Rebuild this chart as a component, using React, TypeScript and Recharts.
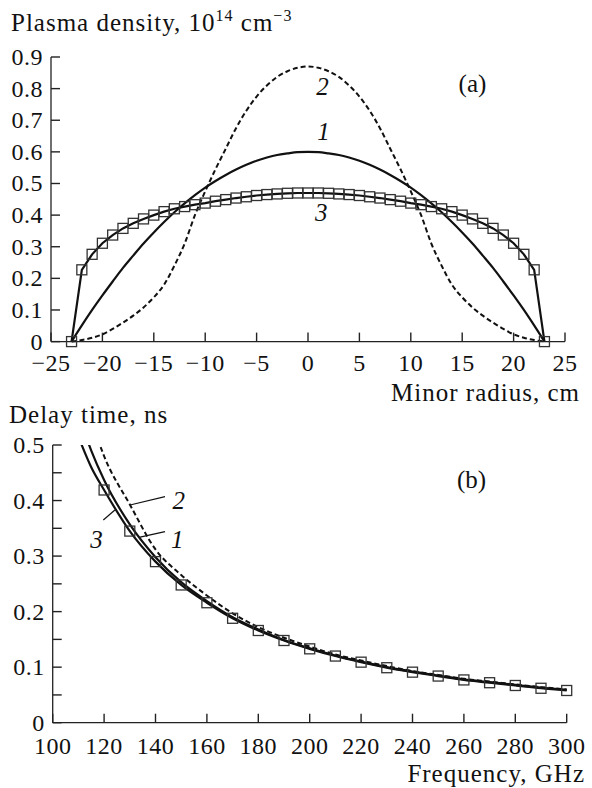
import { LineChart, Line, XAxis, YAxis, ReferenceDot, ReferenceLine } from "recharts";

// (a) plasma density profiles, 10^14 cm^-3
const radius = [
  -23, -22, -21, -20, -19, -18, -17, -16, -15, -14, -13, -12, -11, -10, -9, -8, -7, -6, -5, -4, -3, -2, -1, 0,
  1, 2, 3, 4, 5, 6, 7, 8, 9, 10, 11, 12, 13, 14, 15, 16, 17, 18, 19, 20, 21, 22, 23,
];
const density1 = [
  0, 0.051, 0.1, 0.146, 0.19, 0.233, 0.272, 0.31, 0.345, 0.378, 0.409, 0.437, 0.463, 0.487, 0.508, 0.527, 0.544,
  0.559, 0.572, 0.582, 0.59, 0.595, 0.599, 0.6, 0.599, 0.595, 0.59, 0.582, 0.572, 0.559, 0.544, 0.527, 0.508,
  0.487, 0.463, 0.437, 0.409, 0.378, 0.345, 0.31, 0.272, 0.233, 0.19, 0.146, 0.1, 0.051, 0,
];
const density2 = [
  0, 0.005, 0.012, 0.023, 0.04, 0.06, 0.082, 0.108, 0.14, 0.18, 0.24, 0.31, 0.4, 0.475, 0.545, 0.61, 0.675, 0.73,
  0.775, 0.81, 0.837, 0.855, 0.866, 0.87, 0.866, 0.855, 0.837, 0.81, 0.775, 0.73, 0.675, 0.61, 0.545, 0.475, 0.4,
  0.31, 0.24, 0.18, 0.14, 0.108, 0.082, 0.06, 0.04, 0.023, 0.012, 0.005, 0,
];
const density3 = [
  0, 0.227, 0.276, 0.311, 0.337, 0.358, 0.374, 0.388, 0.4, 0.411, 0.42, 0.427, 0.433, 0.438, 0.444, 0.449, 0.454,
  0.458, 0.462, 0.465, 0.467, 0.469, 0.47, 0.47, 0.47, 0.469, 0.467, 0.465, 0.462, 0.458, 0.454, 0.449, 0.444,
  0.438, 0.433, 0.427, 0.42, 0.411, 0.4, 0.388, 0.374, 0.358, 0.337, 0.311, 0.276, 0.227, 0,
];
const radiusTicks = [-25, -20, -15, -10, -5, 0, 5, 10, 15, 20, 25];
const densityTicks = [0, 0.1, 0.2, 0.3, 0.4, 0.5, 0.6, 0.7, 0.8, 0.9];

// (b) delay time, ns
const freq = [110, 115, 120, 130, 140, 150, 160, 170, 180, 190, 200, 210, 220, 230, 240, 250, 260, 270, 280, 290, 300];
const delay1 = [
  0.555, 0.49, 0.437, 0.357, 0.298, 0.253, 0.219, 0.19, 0.168, 0.149, 0.134, 0.121, 0.11, 0.1, 0.092, 0.085, 0.078,
  0.073, 0.068, 0.063, 0.059,
];
const delay2 = [
  0.62, 0.545, 0.48, 0.393, 0.312, 0.266, 0.229, 0.197, 0.172, 0.153, 0.137, 0.123, 0.112, 0.102, 0.093, 0.086, 0.079,
  0.074, 0.069, 0.064, 0.06,
];
const delay3 = [
  0.515, 0.46, 0.419, 0.345, 0.29, 0.248, 0.216, 0.188, 0.166, 0.148, 0.133, 0.12, 0.109, 0.099, 0.091, 0.084, 0.077,
  0.072, 0.067, 0.062, 0.058,
];
const freqTicks = [100, 120, 140, 160, 180, 200, 220, 240, 260, 280, 300];
const delayTicks = [0, 0.05, 0.1, 0.15, 0.2, 0.25, 0.3, 0.35, 0.4, 0.45, 0.5];
const firstMarkerFreq = 120;

const profileRows = radius.map((r, i) => ({ r, n1: density1[i], n2: density2[i], n3: density3[i] }));
const delayRows = freq.map((f, i) => ({ f, t1: delay1[i], t2: delay2[i], t3: delay3[i] }));

const FONT = "'Liberation Serif', 'Times New Roman', serif";
const INK = "#111";
const AXIS = "#222";
const TICK_LEN = 9;

const minus = (v: number) => (v < 0 ? `\u2212${Math.abs(v)}` : String(v));
const density = (v: number) => (v === 0 ? "0" : v.toFixed(1));
const delayLabel = (v: number) => {
  const k = Math.round(v * 20);
  if (k % 2 === 1) return "";
  return k === 0 ? "0" : v.toFixed(1);
};

// ticks point into the plot, labels sit outside
function BottomTick(fmt: (v: number) => string, baseline: number) {
  return (p: any) => (
    <g key={`xt-${p.index}`}>
      <line x1={p.x} x2={p.x} y1={p.y} y2={p.y - TICK_LEN} stroke={AXIS} strokeWidth={1.4} />
      <text x={p.x} y={p.y + baseline} textAnchor="middle" fontFamily={FONT} fontSize={24} letterSpacing={0.5} fill="#111">
        {fmt(p.payload.value)}
      </text>
    </g>
  );
}

function LeftTick(fmt: (v: number) => string) {
  return (p: any) => (
    <g key={`yt-${p.index}`}>
      <line x1={p.x} x2={p.x + TICK_LEN} y1={p.y} y2={p.y} stroke={AXIS} strokeWidth={1.4} />
      <text x={p.x - 8} y={p.y + 8} textAnchor="end" fontFamily={FONT} fontSize={24} letterSpacing={0.5} fill="#111">
        {fmt(p.payload.value)}
      </text>
    </g>
  );
}

function Square(props: any) {
  const { cx, cy, index } = props;
  return <rect key={`sq-${index}`} x={cx - 5} y={cy - 5} width={10} height={10} fill="none" stroke="#333" strokeWidth={1.3} />;
}

function SparseSquare(props: any) {
  const { payload, index } = props;
  if (payload.f < firstMarkerFreq) return <g key={`sq-${index}`} />;
  return <Square {...props} />;
}

function tag(text: string, italic = true) {
  return (p: any) => (
    <text
      x={p.cx}
      y={p.cy}
      textAnchor="middle"
      dominantBaseline="central"
      fontFamily={FONT}
      fontSize={25}
      fontStyle={italic ? "italic" : "normal"}
      fill="#111"
    >
      {text}
    </text>
  );
}

const abs = (top: number, extra: React.CSSProperties = {}): React.CSSProperties => ({
  position: "absolute",
  top,
  fontFamily: FONT,
  fontSize: 25,
  letterSpacing: 1,
  lineHeight: "25px",
  color: "#111",
  whiteSpace: "nowrap",
  ...extra,
});

const sup: React.CSSProperties = { fontSize: 16, position: "relative", top: -10 };

export default function App() {
  return (
    <div style={{ position: "absolute", left: 0, top: 0, width: 592, height: 788, background: "#fff" }}>
      <div style={abs(10, { left: 11 })}>
        Plasma density, 10<span style={sup}>14</span> cm<span style={sup}>{"\u22123"}</span>
      </div>
      <div style={abs(380, { right: 12 })}>Minor radius, cm</div>
      <div style={abs(402, { left: 9 })}>Delay time, ns</div>
      <div style={abs(761, { right: 7 })}>Frequency, GHz</div>

      <div style={{ position: "absolute", left: 0, top: 0 }}>
        <LineChart width={592} height={400} data={profileRows} margin={{ top: 57, right: 27, bottom: 0, left: 0 }}>
          <XAxis
            dataKey="r"
            type="number"
            domain={[-25, 25]}
            ticks={radiusTicks}
            height={58.4}
            tickSize={0}
            tickMargin={0}
            tickLine={false}
            tick={BottomTick(minus, 29.5)}
            stroke={AXIS}
            strokeWidth={1.3}
            interval={0}
          />
          <YAxis
            type="number"
            domain={[0, 0.9]}
            ticks={densityTicks}
            width={51}
            tickSize={0}
            tickMargin={0}
            tickLine={false}
            tick={LeftTick(density)}
            stroke={AXIS}
            strokeWidth={1.3}
            interval={0}
          />
          <Line dataKey="n2" type="monotone" stroke={INK} strokeWidth={2} strokeDasharray="5 3" dot={false} isAnimationActive={false} />
          <Line dataKey="n1" type="monotone" stroke={INK} strokeWidth={2.2} dot={false} isAnimationActive={false} />
          <Line dataKey="n3" type="linear" stroke={INK} strokeWidth={2.2} dot={Square} isAnimationActive={false} />
          <ReferenceDot x={1.4} y={0.807} r={0} shape={tag("2")} />
          <ReferenceDot x={1.5} y={0.663} r={0} shape={tag("1")} />
          <ReferenceDot x={1.3} y={0.409} r={0} shape={tag("3")} />
          <ReferenceDot x={16} y={0.815} r={0} shape={tag("(a)", false)} />
        </LineChart>
      </div>

      <div style={{ position: "absolute", left: 0, top: 400 }}>
        <LineChart width={592} height={388} data={delayRows} margin={{ top: 45, right: 25.3, bottom: 0, left: 0 }}>
          <XAxis
            dataKey="f"
            type="number"
            domain={[100, 300]}
            ticks={freqTicks}
            height={65.3}
            tickSize={0}
            tickMargin={0}
            tickLine={false}
            tick={BottomTick(String, 31.5)}
            stroke={AXIS}
            strokeWidth={1.3}
            interval={0}
          />
          <YAxis
            type="number"
            domain={[0, 0.5]}
            ticks={delayTicks}
            allowDataOverflow
            width={52.7}
            tickSize={0}
            tickMargin={0}
            tickLine={false}
            tick={LeftTick(delayLabel)}
            stroke={AXIS}
            strokeWidth={1.3}
            interval={0}
          />
          <Line dataKey="t2" type="monotone" stroke={INK} strokeWidth={2} strokeDasharray="5 3" dot={false} isAnimationActive={false} />
          <Line dataKey="t1" type="monotone" stroke={INK} strokeWidth={2.2} dot={false} isAnimationActive={false} />
          <Line dataKey="t3" type="monotone" stroke={INK} strokeWidth={2.2} dot={SparseSquare} isAnimationActive={false} />
          <ReferenceLine segment={[{ x: 143.7, y: 0.407 }, { x: 130.1, y: 0.392 }]} stroke={INK} strokeWidth={1.2} />
          <ReferenceLine segment={[{ x: 143.7, y: 0.344 }, { x: 134, y: 0.334 }]} stroke={INK} strokeWidth={1.2} />
          <ReferenceLine segment={[{ x: 119.7, y: 0.365 }, { x: 124.2, y: 0.383 }]} stroke={INK} strokeWidth={1.2} />
          <ReferenceDot x={149} y={0.4} r={0} shape={tag("2")} />
          <ReferenceDot x={148.5} y={0.33} r={0} shape={tag("1")} />
          <ReferenceDot x={117} y={0.33} r={0} shape={tag("3")} />
          <ReferenceDot x={263} y={0.437} r={0} shape={tag("(b)", false)} />
        </LineChart>
      </div>
    </div>
  );
}
